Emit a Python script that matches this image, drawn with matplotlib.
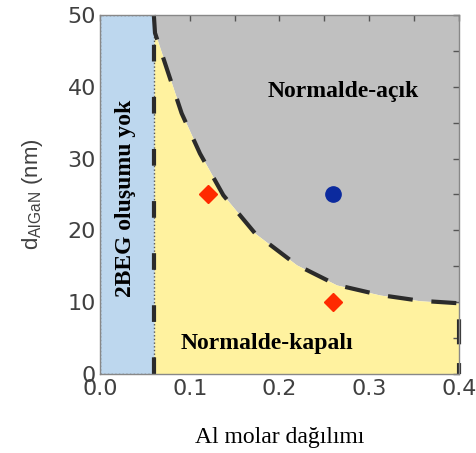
import matplotlib
matplotlib.use('Agg')
import matplotlib.pyplot as plt
from matplotlib.patches import Rectangle
from matplotlib.ticker import MultipleLocator

# boundary between normally-on and normally-off
boundary_x = [0.060, 0.0613, 0.0761, 0.091, 0.1114, 0.1374, 0.1727, 0.219, 0.2637, 0.312, 0.3565, 0.400]
boundary_y = [50.0, 47.5, 41.9, 36.3, 30.7, 24.9, 19.6, 15.2, 12.4, 11.0, 10.2, 9.85]

no_2deg_limit = 0.06  # below this Al fraction: no 2DEG

# device points
off_x = [0.12, 0.26]
off_y = [25, 10]
on_x = [0.26]
on_y = [25]

x_ticks = [0.0, 0.1, 0.2, 0.3, 0.4]
y_ticks = [0, 10, 20, 30, 40, 50]

fig = plt.figure(figsize=(4.77, 4.53), dpi=100)
ax = fig.add_axes([0.2096, 0.1744, 0.7527, 0.7925])

# regions
ax.fill_between(boundary_x, boundary_y, 50, color='#c0c0c0', lw=0, zorder=1)
ax.fill_between(boundary_x, 0, boundary_y, color='#fff29f', lw=0, zorder=1)
ax.add_patch(Rectangle((0, 0), no_2deg_limit, 50, facecolor='#bdd7ee',
                       edgecolor='#555555', lw=1, ls=':', zorder=2))

# boundaries
ax.plot([no_2deg_limit, no_2deg_limit], [0, 50], color='#2b2b2b', lw=3,
        ls=(0, (4, 8.5)), zorder=3, clip_on=False)
ax.plot(boundary_x + [0.4], boundary_y + [0], color='#2b2b2b', lw=3,
        ls=(0, (6, 4.5)), zorder=3, clip_on=False)

# devices
ax.plot(off_x, off_y, 'D', color='#ff2a00', ms=9, zorder=4)
ax.plot(on_x, on_y, 'o', color='#0b2a9e', ms=11, zorder=4)

# labels inside
ax.text(0.271, 39.3, 'Normalde-açık', family='Liberation Serif', weight='bold',
        fontsize=17, ha='center', va='center', zorder=5)
ax.text(0.186, 4.3, 'Normalde-kapalı', family='Liberation Serif', weight='bold',
        fontsize=17, ha='center', va='center', zorder=5)
ax.text(0.028, 24.5, '2BEG oluşumu yok', family='Liberation Serif', weight='bold',
        fontsize=17, ha='center', va='center', rotation=90, zorder=5)

ax.set_xlim(0, 0.4)
ax.set_ylim(0, 50)
ax.set_xticks(x_ticks)
ax.set_yticks(y_ticks)
ax.set_xticklabels(['%.1f' % t for t in x_ticks])
ax.xaxis.set_minor_locator(MultipleLocator(0.05))
ax.yaxis.set_minor_locator(MultipleLocator(5))
ax.tick_params(which='both', direction='in', left=False, bottom=False,
               top=True, right=True, length=4, width=1, color='#555555',
               labelsize=16, labelcolor='#404040', pad=3.5)
ax.tick_params(axis='y', pad=3)
for lab in ax.get_xticklabels() + ax.get_yticklabels():
    lab.set_family('DejaVu Sans')

for s in ax.spines.values():
    s.set_color('#888888')
    s.set_linewidth(1)
    s.set_zorder(6)

ax.set_ylabel(r'd$_{\mathregular{AlGaN}}$ (nm)', fontsize=16, color='#404040',
              family='Liberation Sans', labelpad=16)
ax.set_xlabel('Al molar dağılımı', fontsize=17, family='Liberation Serif',
              labelpad=20)

plt.savefig('out.png', dpi=100)
plt.close()
